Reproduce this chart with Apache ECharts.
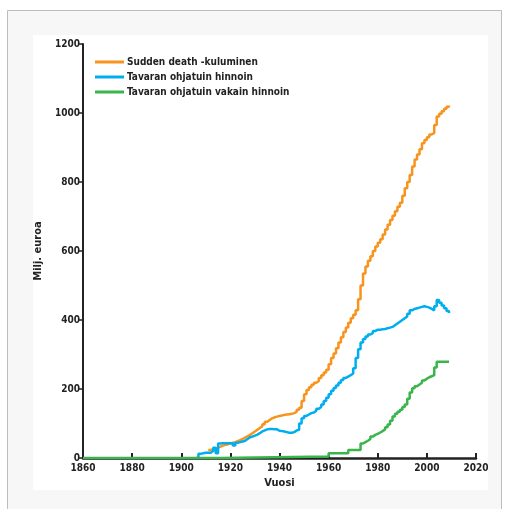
<!DOCTYPE html>
<html>
<head>
<meta charset="utf-8">
<script src="https://cdn.jsdelivr.net/npm/echarts@6/dist/echarts.min.js"></script>
<style>
  html, body { margin: 0; padding: 0; background: #ffffff; }
  #chart { width: 507px; height: 509px; }
</style>
</head>
<body>
<div id="chart"></div>
<script>
// Axis range and ticks
const xMin = 1860, xMax = 2020, xStep = 20;
const yMin = 0, yMax = 1200, yStep = 200;

// Series names
const seriesNames = [
  'Sudden death -kuluminen',
  'Tavaran ohjatuin hinnoin',
  'Tavaran ohjatuin vakain hinnoin'
];

// Orange series: yearly values from 1911 to 2009
const orangeStart = 1911;
const orangeValues = [
  23, 25, 28, 30, 33, 36, 38, 40, 42,            // 1911-1919
  44, 46, 49, 52, 55, 59, 63, 67, 72, 77,        // 1920-1929
  82, 87, 92, 98, 105, 110, 115, 118, 120, 122,  // 1930-1939
  123, 125, 126, 127, 128, 130, 134, 140, 146, 165, // 1940-1949
  185, 197, 205, 212, 218, 223, 232, 240, 248, 256, // 1950-1959
  272, 290, 303, 318, 335, 350, 365, 378, 392, 405, // 1960-1969
  415, 428, 460, 500, 535, 555, 572, 585, 600, 613, // 1970-1979
  624, 634, 648, 662, 676, 690, 702, 715, 728, 740, // 1980-1989
  760, 782, 800, 820, 845, 865, 880, 895, 912, 922, // 1990-1999
  930, 938, 942, 965, 990, 998, 1005, 1012, 1018, 1022 // 2000-2009
];

// Blue series: yearly values from 1906 to 2009
const blueStart = 1906;
const blueValues = [
  0, 12, 14, 15,                                  // 1906-1909
  15, 15, 20, 30, 14, 42, 43, 43, 43, 43,         // 1910-1919
  43, 36, 44, 46, 48, 50, 55, 60, 62, 65,         // 1920-1929
  68, 72, 77, 80, 83, 84, 84, 83, 83, 79,         // 1930-1939
  78, 77, 75, 73, 73, 75, 80, 82, 100, 115,       // 1940-1949
  122, 126, 130, 132, 137, 143, 148, 155, 165, 175, // 1950-1959
  185, 195, 203, 210, 218, 226, 232, 236, 240, 245, // 1960-1969
  260, 290, 315, 335, 345, 352, 358, 362, 368, 372, // 1970-1979
  372, 373, 374, 376, 378, 380, 385, 390, 395, 400, // 1980-1989
  405, 410, 418, 428, 432, 434, 436, 438, 440, 438, // 1990-1999
  436, 432, 428, 440, 458, 450, 442, 434, 426, 420  // 2000-2009
];

// Green series: change points
const greenYears = [
  1860, 1916, 1960, 1968, 1973, 1974, 1975, 1976, 1977, 1978, 1979,
  1980, 1981, 1982, 1983, 1984, 1985, 1986, 1987, 1988, 1989,
  1990, 1991, 1992, 1993, 1994, 1995, 1996, 1997, 1998, 1999,
  2000, 2001, 2002, 2003, 2004, 2005, 2006, 2007, 2008, 2009
];
const greenValues = [
  0, 4, 14, 23, 42, 46, 50, 55, 62, 67, 70,
  74, 78, 83, 89, 97, 108, 120, 128, 134, 140,
  148, 155, 172, 190, 202, 208, 213, 218, 225, 230,
  234, 237, 240, 262, 279, 279, 279, 279, 279, 279
];

const colors = ['#f7941d', '#00aeef', '#39b54a'];

function fromStart(start, values) {
  return values.map((v, i) => [start + i, v]);
}
function fromPairs(xs, ys) {
  return xs.map((x, i) => [x, ys[i]]);
}

const chart = echarts.init(document.getElementById('chart'), null, { renderer: 'canvas' });
const font = '"DejaVu Sans Condensed", "Liberation Sans Narrow", "Liberation Sans", Arial, sans-serif';
const plain = v => String(v);

const option = {
  animation: false,
  backgroundColor: '#ffffff',
  graphic: [
    { type: 'rect', z: -10, silent: true,
      shape: { x: 7.5, y: 10.5, width: 494, height: 500 },
      style: { fill: '#f7f7f7', stroke: '#bdbdbd', lineWidth: 1 } },
    { type: 'rect', z: -9, silent: true,
      shape: { x: 33, y: 35, width: 455, height: 455 },
      style: { fill: '#ffffff' } }
  ],
  grid: { left: 83, right: 31, top: 44, bottom: 51, containLabel: false },
  legend: {
    orient: 'vertical',
    left: 90, top: 51,
    itemWidth: 29, itemHeight: 3, itemGap: 3,
    icon: 'rect',
    textStyle: { fontFamily: font, fontSize: 10, fontWeight: 'bold', color: '#222', lineHeight: 12, padding: [0, 0, 0, -2] },
    data: seriesNames
  },
  xAxis: {
    type: 'value', min: xMin, max: xMax, interval: xStep,
    name: 'Vuosi', nameLocation: 'middle', nameGap: 19,
    nameTextStyle: { fontFamily: font, fontSize: 11, fontWeight: 'bold', color: '#222' },
    axisLine: { show: true, lineStyle: { color: '#222', width: 2.5 } },
    axisTick: { show: true, inside: true, length: 5, lineStyle: { color: '#222', width: 2 } },
    axisLabel: { fontFamily: font, fontSize: 10, fontWeight: 'bold', color: '#222', margin: 5, formatter: plain },
    splitLine: { show: false }
  },
  yAxis: {
    type: 'value', min: yMin, max: yMax, interval: yStep,
    name: 'Milj. euroa', nameLocation: 'middle', nameGap: 34, nameRotate: 90,
    nameTextStyle: { fontFamily: font, fontSize: 11, fontWeight: 'bold', color: '#222' },
    axisLine: { show: true, lineStyle: { color: '#222', width: 2 } },
    axisTick: { show: true, inside: false, length: 4, lineStyle: { color: '#222', width: 1.5 } },
    axisLabel: { fontFamily: font, fontSize: 10, fontWeight: 'bold', color: '#222', margin: 3, formatter: plain },
    splitLine: { show: false }
  },
  series: [
    { name: seriesNames[0], type: 'line', step: 'end', showSymbol: false, z: 2,
      lineStyle: { color: colors[0], width: 2.5 }, itemStyle: { color: colors[0] },
      data: fromStart(orangeStart, orangeValues) },
    { name: seriesNames[1], type: 'line', step: 'end', showSymbol: false, z: 3,
      lineStyle: { color: colors[1], width: 2.5 }, itemStyle: { color: colors[1] },
      data: fromStart(blueStart, blueValues) },
    { name: seriesNames[2], type: 'line', step: 'end', showSymbol: false, z: 4,
      lineStyle: { color: colors[2], width: 2.5 }, itemStyle: { color: colors[2] },
      data: fromPairs(greenYears, greenValues) }
  ]
};

chart.setOption(option);
</script>
</body>
</html>
